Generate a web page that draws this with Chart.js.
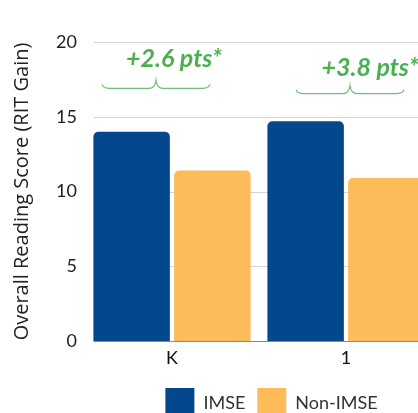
<!DOCTYPE html>
<html>
  <head>
    <script src="https://cdn.jsdelivr.net/npm/chart.js@4.4.0/dist/chart.umd.min.js"></script>
    <style>
      body {
        margin: 0;
        padding: 0;
        overflow: hidden;
        background: #ffffff;
        font-family: Lato, sans-serif;
      }
      .chart-container {
        width: 543px;
        height: 428px;
        position: relative;
      }
    </style>
  </head>
  <body>
    <div class="chart-container">
      <canvas id="readingChart"></canvas>
    </div>

    <script>
      // chart data
      const grades = ['K', '1'];
      const seriesNames = ['IMSE', 'Non-IMSE'];
      const imseGain = [14.0, 14.7];
      const nonImseGain = [11.4, 10.9];
      const yTicks = [0, 5, 10, 15, 20];

      // where the green callouts sit (y in axis units, x as pixel shift from the group centre)
      const calloutTextY = [18.35, 17.75];
      const calloutBraceY = [16.9, 16.55];
      const calloutTextShift = [2, 24];
      const calloutBraceShift = [-16, 4];

      const BLUE = '#03478c';
      const ORANGE = '#fdbb5a';
      const GREEN = '#4caf50';

      // horizontal grid lines, starting at the first bar like in the original
      const gridPlugin = {
        id: 'gridFromBars',
        beforeDatasetsDraw(chart) {
          const ctx = chart.ctx;
          const yScale = chart.scales.y;
          const firstBar = chart.getDatasetMeta(0).data[0];
          const startX = firstBar.x - firstBar.width / 2;
          const endX = chart.chartArea.right;
          ctx.save();
          yTicks.forEach(function(v) {
            const py = Math.round(yScale.getPixelForValue(v)) + 0.5;
            ctx.strokeStyle = v === 0 ? '#8a8a8a' : '#d4d4d4';
            ctx.lineWidth = 1;
            ctx.beginPath();
            ctx.moveTo(startX, py);
            ctx.lineTo(endX, py);
            ctx.stroke();
          });
          ctx.restore();
        }
      };

      // "+x.x pts*" labels with a curly brace under each group
      const calloutPlugin = {
        id: 'callouts',
        afterDatasetsDraw(chart) {
          const ctx = chart.ctx;
          const xScale = chart.scales.x;
          const yScale = chart.scales.y;
          ctx.save();
          grades.forEach(function(g, i) {
            const cx = xScale.getPixelForValue(i);
            const diff = imseGain[i] - nonImseGain[i];
            const text = '+' + diff.toFixed(1) + ' pts*';

            ctx.fillStyle = GREEN;
            ctx.font = 'italic bold 25px Lato, sans-serif';
            ctx.textAlign = 'center';
            ctx.textBaseline = 'alphabetic';
            ctx.fillText(text, cx + calloutTextShift[i], yScale.getPixelForValue(calloutTextY[i]));

            const bx = cx + calloutBraceShift[i];
            const by = yScale.getPixelForValue(calloutBraceY[i]);
            drawBrace(ctx, bx - 54, bx + 54, by);
          });
          ctx.restore();
        }
      };

      function drawBrace(ctx, x0, x1, y) {
        const xc = (x0 + x1) / 2;
        ctx.strokeStyle = '#72bf74';
        ctx.lineWidth = 1.2;
        ctx.beginPath();
        ctx.moveTo(x0, y - 4);
        ctx.quadraticCurveTo(x0 + 1, y, x0 + 8, y);
        ctx.lineTo(xc - 7, y);
        ctx.quadraticCurveTo(xc - 1, y, xc, y - 8);
        ctx.quadraticCurveTo(xc + 1, y, xc + 7, y);
        ctx.lineTo(x1 - 8, y);
        ctx.quadraticCurveTo(x1 - 1, y, x1, y - 4);
        ctx.stroke();
      }

      const ctx = document.getElementById('readingChart').getContext('2d');

      new Chart(ctx, {
        type: 'bar',
        data: {
          labels: grades,
          datasets: [
            {
              label: seriesNames[0],
              data: imseGain,
              backgroundColor: BLUE,
              borderWidth: 0,
              borderRadius: 5
            },
            {
              label: seriesNames[1],
              data: nonImseGain,
              backgroundColor: ORANGE,
              borderWidth: 0,
              borderRadius: 5
            }
          ]
        },
        options: {
          responsive: true,
          maintainAspectRatio: false,
          animation: false,
          categoryPercentage: 0.928,
          barPercentage: 0.947,
          layout: {
            padding: { top: 42, left: 0, right: 0, bottom: 0 }
          },
          plugins: {
            tooltip: { enabled: false },
            legend: {
              position: 'bottom',
              labels: {
                boxWidth: 29,
                boxHeight: 30,
                padding: 12,
                color: '#333333',
                font: { family: 'Lato', size: 18 }
              }
            }
          },
          scales: {
            x: {
              grid: { display: false, drawTicks: false },
              border: { display: false },
              ticks: {
                color: '#111111',
                padding: 6,
                font: { family: 'Lato', size: 18 }
              },
              afterFit: function(scale) {
                scale.height = 35;
              }
            },
            y: {
              min: 0,
              max: 20,
              grid: { display: false, drawTicks: false },
              border: { display: false },
              ticks: {
                stepSize: 5,
                padding: 8,
                color: '#222222',
                font: { family: 'Lato', size: 18 }
              },
              title: {
                display: true,
                text: 'Overall Reading Score (RIT Gain)',
                color: '#222222',
                padding: { top: 10, bottom: 0 },
                font: { family: 'Open Sans', size: 20 }
              },
              afterFit: function(scale) {
                scale.width = 85;
              }
            },
            y2: {
              position: 'right',
              grid: { display: false, drawTicks: false },
              border: { display: false },
              ticks: { display: false },
              afterFit: function(scale) {
                scale.width = 110;
              }
            }
          }
        },
        plugins: [gridPlugin, calloutPlugin]
      });
    </script>
  </body>
</html>
